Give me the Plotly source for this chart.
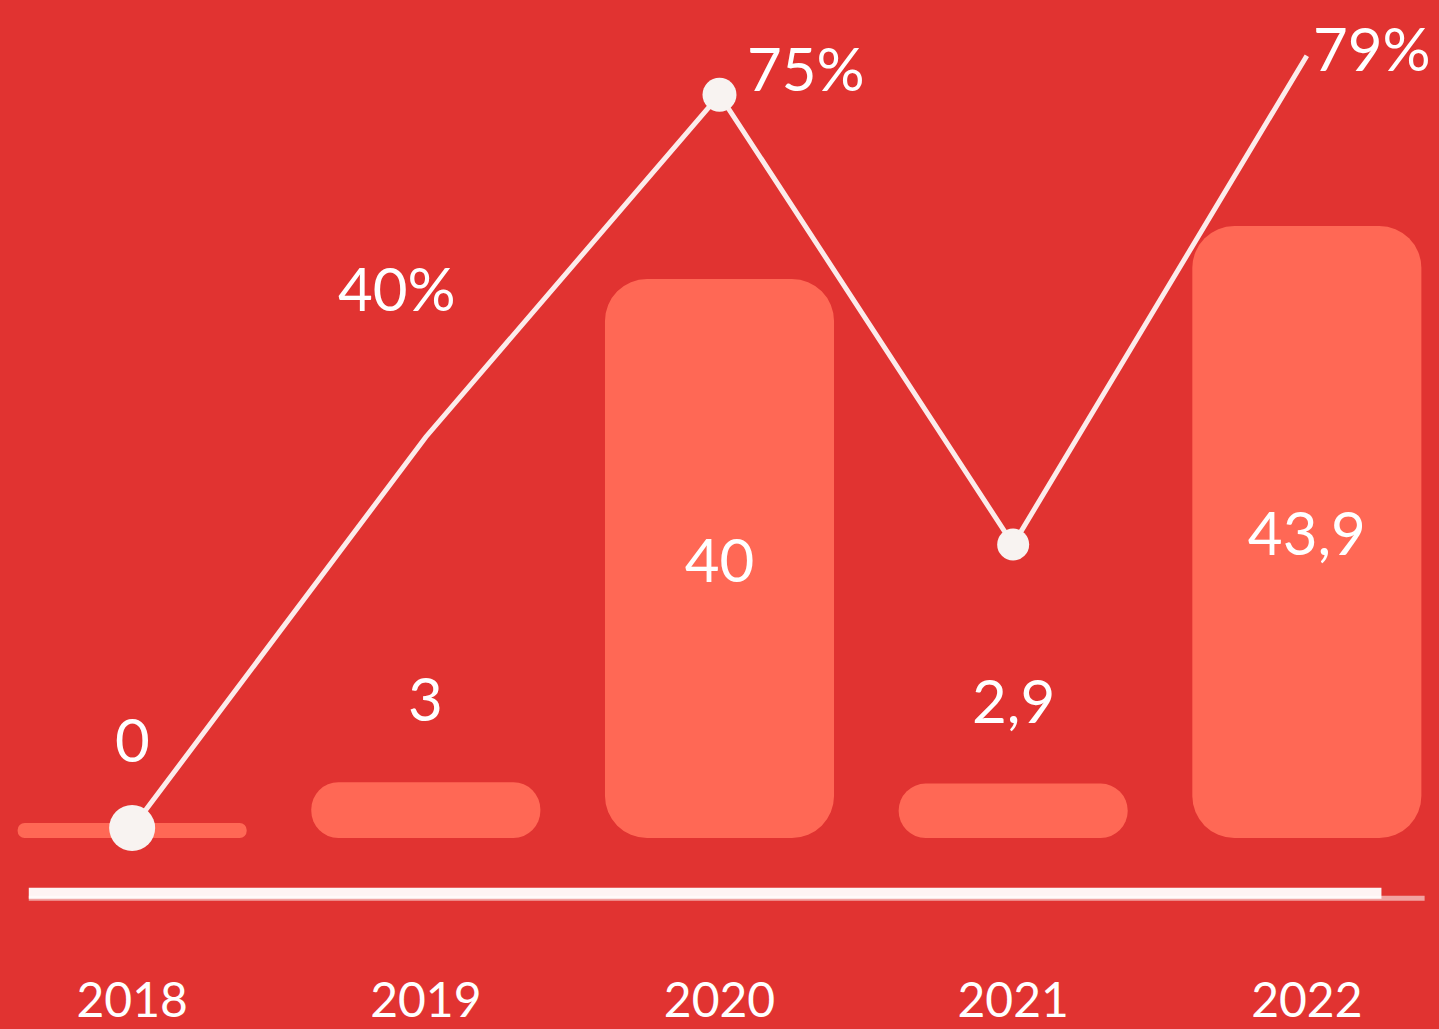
import plotly.graph_objects as go

years = ["2018", "2019", "2020", "2021", "2022"]
values = [0, 3, 40, 2.9, 43.9]
value_labels = ["0", "3", "40", "2,9", "43,9"]
pct = [0, 40, 75, 29, 79]
pct_labels = ["", "40%", "75%", "", "79%"]
marker_sizes = [46, 0, 34, 32, 0]

BG = "#E13331"
BAR = "#FF6855"
WHITE = "#FFFFFF"
FONT = "Lato"
FLOOR = 1.1  # visual floor so a zero bar still shows as a thin strip

fig = go.Figure()

inside = [v > 10 for v in values]
fig.add_trace(go.Bar(
    x=years,
    y=[v + FLOOR for v in values],
    base=-FLOOR,
    marker=dict(color=BAR, line=dict(width=0)),
    width=0.78,
    text=[t if ins else "" for t, ins in zip(value_labels, inside)],
    textposition="inside",
    insidetextanchor="middle",
    textfont=dict(family=FONT, size=60, color=WHITE),
    hoverinfo="skip",
))

fig.add_trace(go.Scatter(
    x=years,
    y=pct,
    yaxis="y2",
    mode="lines+markers",
    cliponaxis=False,
    line=dict(color="rgba(255,255,255,0.9)", width=5),
    marker=dict(size=marker_sizes, color="#F8F3F1", opacity=1,
                line=dict(width=0)),
    hoverinfo="skip",
))

annotations = []
for i, (v, t, ins) in enumerate(zip(values, value_labels, inside)):
    if not ins:
        annotations.append(dict(
            x=i, y=v, xref="x", yref="y", text=t, showarrow=False,
            yanchor="bottom", yshift=46,
            font=dict(family=FONT, size=60, color=WHITE)))

pct_shift = {1: (-29, 149), 2: (86, 27), 4: (65, 8)}
for i, (p, t) in enumerate(zip(pct, pct_labels)):
    if t:
        dx, dy = pct_shift[i]
        annotations.append(dict(
            x=i, y=p, xref="x", yref="y2", text=t, showarrow=False,
            xshift=dx, yshift=dy,
            font=dict(family=FONT, size=60, color=WHITE)))

# hand-drawn baseline stroke
shapes = [
    dict(type="line", xref="paper", yref="paper", x0=0.02, x1=0.96,
         y0=-0.066, y1=-0.066, line=dict(color="rgba(255,255,255,0.95)", width=11)),
    dict(type="line", xref="paper", yref="paper", x0=0.02, x1=0.99,
         y0=-0.072, y1=-0.072, line=dict(color="rgba(255,255,255,0.55)", width=5)),
]

fig.update_layout(
    width=1439, height=1029,
    margin=dict(l=0, r=0, t=0, b=191),
    paper_bgcolor=BG, plot_bgcolor=BG,
    barcornerradius=42,
    showlegend=False,
    xaxis=dict(type="category", range=[-0.45, 4.45], showgrid=False,
               zeroline=False, showline=False, ticks="",
               tickfont=dict(family=FONT, size=48, color=WHITE),
               ticklabelstandoff=130),
    yaxis=dict(range=[-FLOOR, -FLOOR + 838 / 13.6], visible=False, fixedrange=True),
    yaxis2=dict(range=[-1.02, 84.7], overlaying="y", visible=False),
    annotations=annotations,
    shapes=shapes,
)

fig.write_html("out.html", config={"displayModeBar": False},
               post_script="document.body.style.margin='0';document.body.style.overflow='hidden';")
